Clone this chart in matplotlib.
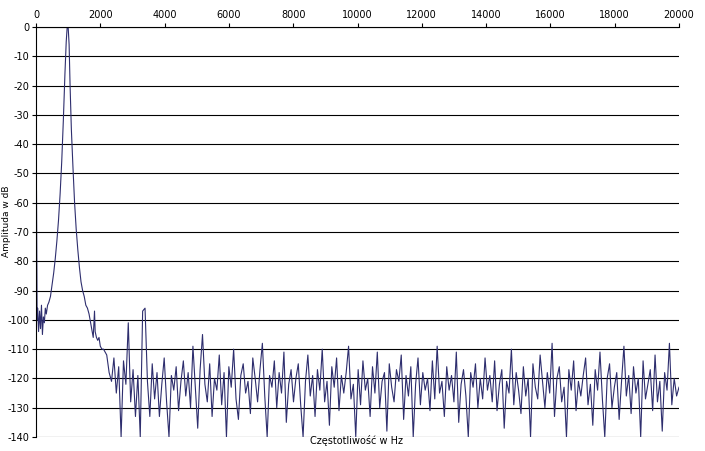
import numpy as np
import matplotlib
matplotlib.use("Agg")
import matplotlib.pyplot as plt
plt.rcParams["axes.unicode_minus"] = False

peak_freq = [15,35,50,80,110,140,170,200,230,260,290,320,360,400,450,500,550,600,650,700,750,800,850,900,
             940,970,1000,1030,1060,1100,1150,1200,1250,1300,1350,1400,1450,1500,1550,1600,1650,1700,1750,
             1780,1820,1840,1880,1920,1960,2000,2050,2100,2150]
peak_db = [-56,-100,-96,-104,-97,-103,-95,-105,-99,-101,-96,-98,-95,-94,-92,-88,-84,-79,-73,-66,-57,-46,-32,-16,
           -5,0,0,-6,-20,-35,-48,-60,-69,-76,-82,-87,-90,-92,-95,-96,-98,-101,-104,
           -106,-97,-104,-106,-107,-106,-109,-110,-110,-111]

noise_db = [
 -112,-118,-121,-113,-125,-116,-140,-114,-122,-101,-128,-117,-133,-119,-140,-97,-96,-121,-133,-115,
 -127,-118,-133,-122,-113,-128,-140,-119,-124,-116,-131,-121,-114,-126,-118,-130,-109,-123,-137,-117,
 -105,-122,-128,-115,-133,-120,-124,-112,-129,-118,-140,-116,-123,-110,-127,-134,-119,-115,-125,-121,
 -132,-113,-120,-128,-117,-108,-126,-140,-119,-123,-114,-130,-118,-125,-111,-135,-122,-117,-128,-120,
 -115,-129,-140,-121,-112,-126,-119,-133,-117,-124,-110,-128,-121,-136,-116,-123,-113,-131,-119,-125,
 -118,-109,-127,-122,-140,-117,-129,-114,-124,-120,-133,-116,-125,-111,-130,-121,-118,-138,-115,-123,
 -128,-117,-121,-112,-134,-119,-126,-116,-140,-122,-113,-129,-118,-124,-120,-131,-114,-127,-109,-125,
 -121,-133,-116,-124,-119,-128,-111,-135,-122,-117,-126,-140,-118,-123,-115,-130,-120,-127,-113,-124,
 -119,-128,-114,-131,-122,-117,-137,-121,-125,-110,-129,-118,-124,-132,-116,-126,-120,-140,-115,-123,
 -127,-112,-121,-130,-118,-125,-108,-133,-120,-116,-128,-123,-140,-117,-124,-114,-131,-121,-126,-119,
 -113,-129,-122,-136,-117,-124,-111,-127,-140,-120,-115,-130,-123,-118,-134,-121,-109,-126,-119,-132,
 -116,-125,-120,-140,-114,-127,-122,-117,-131,-112,-128,-121,-138,-118,-124,-108,-129,-120,-126,-123]
noise_freq = np.linspace(2200, 20000, len(noise_db))

freq = np.concatenate([peak_freq, noise_freq])
db = np.concatenate([peak_db, noise_db])

fig = plt.figure(figsize=(7.05, 4.51), dpi=100)
ax = fig.add_axes([36/705, 14/451, 643/705, 410/451])
ax.plot(freq, db, color="#2e2e6e", lw=0.8)
ax.set_xlim(0, 20000)
ax.set_ylim(-140, 0)
ax.set_xticks(np.arange(0, 20001, 2000))
ax.set_yticks(np.arange(-140, 1, 10))
ax.xaxis.tick_top()
ax.tick_params(labelsize=7, length=3, color="black", width=0.8, pad=2)
ax.yaxis.grid(True, color="black", lw=0.8)
for s in ["right", "bottom"]:
    ax.spines[s].set_visible(False)
fig.text(0.5*(36+679)/705 - 0.002, 5/451, "Częstotliwość w Hz", fontsize=7, ha="center", va="bottom")
fig.text(7/705, 230/451, "Amplituda w dB", fontsize=6.5, rotation=90, ha="center", va="center")
fig.savefig("out.png", dpi=100)
